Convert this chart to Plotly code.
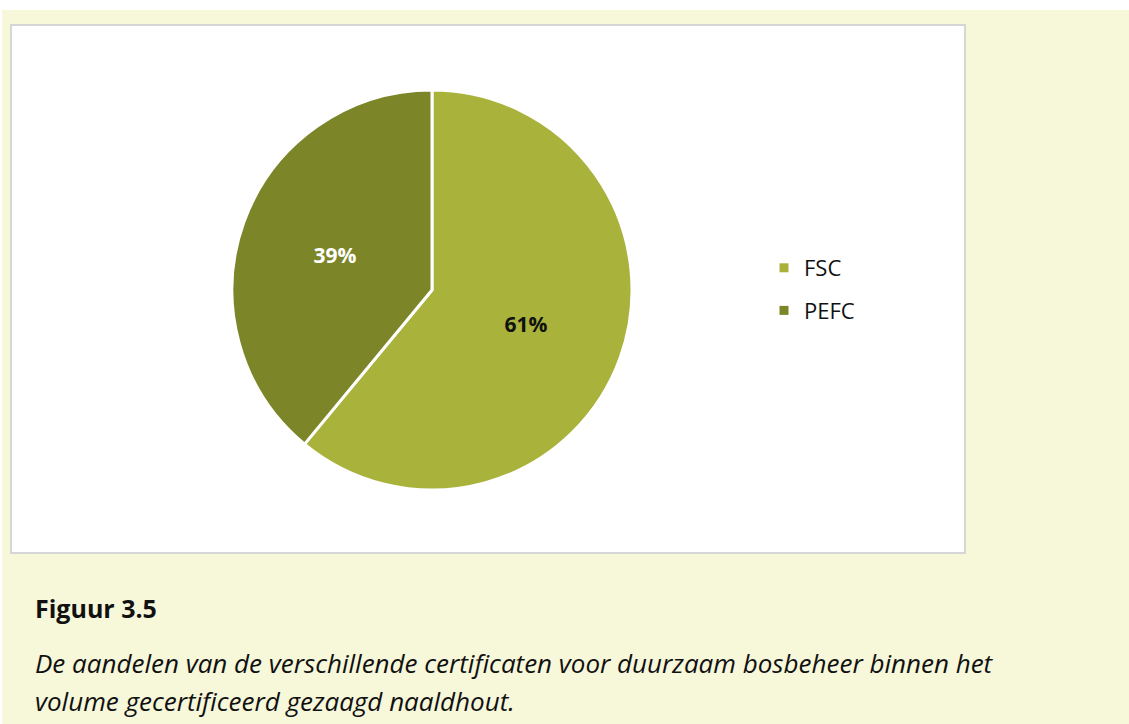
import plotly.graph_objects as go

labels = ["FSC", "PEFC"]
values = [61, 39]
colors = ["#a9b23b", "#7c8628"]
text_colors = ["#111111", "#ffffff"]
title = "Figuur 3.5"
caption_1 = "De aandelen van de verschillende certificaten voor duurzaam bosbeheer binnen het"
caption_2 = "volume gecertificeerd gezaagd naaldhout."

W, H = 1129, 724
FONT = "Open Sans"

fig = go.Figure()

fig.add_trace(go.Pie(
    labels=labels, values=values, sort=False, direction="clockwise", rotation=0,
    marker=dict(colors=colors, line=dict(color="#ffffff", width=3)),
    textinfo="percent", textposition="inside", insidetextorientation="horizontal",
    textfont=dict(family=FONT, size=21, color=text_colors, weight="bold"),
    showlegend=False, hoverinfo="label+percent",
    domain=dict(x=[232 / W, 632 / W], y=[1 - 490 / H, 1 - 90 / H]),
))

# legend entries
for lab, col in zip(labels, colors):
    fig.add_trace(go.Scatter(
        x=[None], y=[None], mode="markers", name=lab, legendgroup=lab,
        marker=dict(symbol="square", size=9, color=col),
    ))

fig.update_layout(
    width=W, height=H,
    paper_bgcolor="#f7f7da", plot_bgcolor="rgba(0,0,0,0)",
    margin=dict(l=0, r=0, t=0, b=0),
    xaxis=dict(visible=False), yaxis=dict(visible=False),
    legend=dict(x=764 / W, y=1 - 247 / H, xanchor="left", yanchor="top",
                font=dict(family=FONT, size=22, color="#111111"),
                bgcolor="rgba(0,0,0,0)", tracegroupgap=11, itemwidth=30),
    shapes=[
        dict(type="rect", xref="paper", yref="paper", x0=0, x1=1, y0=1 - 10 / H, y1=1,
             fillcolor="#ffffff", line=dict(width=0), layer="below"),
        dict(type="rect", xref="paper", yref="paper", x0=0, x1=2 / W, y0=0, y1=1,
             fillcolor="#ffffff", line=dict(width=0), layer="below"),
        dict(type="rect", xref="paper", yref="paper", x0=11 / W, x1=965 / W,
             y0=1 - 553 / H, y1=1 - 25 / H,
             fillcolor="#ffffff", line=dict(color="#d6d6d6", width=2), layer="below"),
    ],
    annotations=[
        dict(text="<b>" + title + "</b>", xref="paper", yref="paper", x=33 / W, y=1 - 608 / H,
             xanchor="left", yanchor="middle", showarrow=False,
             font=dict(family=FONT, size=25, color="#111111")),
        dict(text="<i>" + caption_1 + "</i>", xref="paper", yref="paper", x=33 / W, y=1 - 663 / H,
             xanchor="left", yanchor="middle", showarrow=False,
             font=dict(family=FONT, size=26, color="#111111")),
        dict(text="<i>" + caption_2 + "</i>", xref="paper", yref="paper", x=33 / W, y=1 - 701 / H,
             xanchor="left", yanchor="middle", showarrow=False,
             font=dict(family=FONT, size=26, color="#111111")),
    ],
)

fig.write_html("out.html", config={"displayModeBar": False},
               post_script="document.body.style.margin='0px';")
